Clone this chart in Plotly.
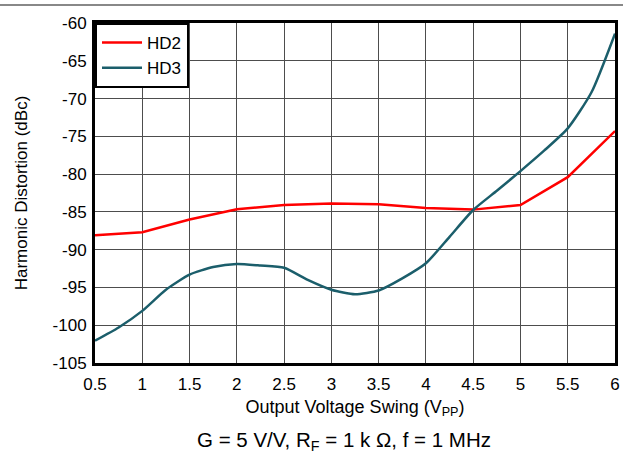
import plotly.graph_objects as go

# Data
hd2_x = [0.5, 1.0, 1.5, 2.0, 2.5, 3.0, 3.5, 4.0, 4.5, 5.0, 5.5, 6.0]
hd2_y = [-88.1, -87.7, -86.0, -84.65, -84.1, -83.9, -84.0, -84.5, -84.7, -84.1, -80.4, -74.3]

hd3_x = [0.5, 0.75, 1.0, 1.25, 1.5, 1.75, 2.0, 2.25, 2.5, 2.75, 3.0, 3.25,
         3.5, 3.75, 4.0, 4.25, 4.5, 4.75, 5.0, 5.25, 5.5, 5.75, 6.0]
hd3_y = [-102.05, -100.3, -98.1, -95.3, -93.3, -92.3, -91.9, -92.1, -92.4, -94.0, -95.3, -95.9,
         -95.4, -93.8, -91.8, -88.3, -84.75, -82.2, -79.6, -76.9, -73.95, -69.2, -61.4]

x_ticks = [0.5, 1, 1.5, 2, 2.5, 3, 3.5, 4, 4.5, 5, 5.5, 6]
x_ticktext = ["0.5", "1", "1.5", "2", "2.5", "3", "3.5", "4", "4.5", "5", "5.5", "6"]
y_ticks = [-105, -100, -95, -90, -85, -80, -75, -70, -65, -60]
y_ticktext = ["-105", "-100", "-95", "-90", "-85", "-80", "-75", "-70", "-65", "-60"]

FONT = "Liberation Sans, Arial, sans-serif"

fig = go.Figure()
fig.add_trace(go.Scatter(x=hd2_x, y=hd2_y, mode="lines", name="HD2",
                         line=dict(color="#ff0000", width=2.5)))
fig.add_trace(go.Scatter(x=hd3_x, y=hd3_y, mode="lines", name="HD3",
                         line=dict(color="#1b5e6b", width=2.5, shape="spline", smoothing=0.6)))

axis_common = dict(showline=True, linecolor="black", linewidth=3, mirror=True,
                   showgrid=True, gridcolor="#4d4d4d", gridwidth=1, zeroline=False,
                   automargin=False,
                   ticks="", tickfont=dict(family=FONT, size=17, color="black"))

fig.update_xaxes(range=[0.5, 6], tickvals=x_ticks, ticktext=x_ticktext,
                 ticklabelstandoff=4,
                 title=dict(text="Output Voltage Swing (V<sub>PP</sub>)",
                            font=dict(family=FONT, size=18, color="black"), standoff=7),
                 **axis_common)
fig.update_yaxes(range=[-105, -60], tickvals=y_ticks, ticktext=y_ticktext,
                 ticklabelstandoff=2,
                 title=dict(text="Harmonic Distortion (dBc)",
                            font=dict(family=FONT, size=17, color="black"), standoff=21),
                 **axis_common)

fig.add_annotation(text="G = 5 V/V, R<sub>F</sub> = 1 k Ω, f = 1 MHz",
                   xref="paper", yref="paper", x=0.479, y=-0.23,
                   xanchor="center", yanchor="middle", showarrow=False,
                   font=dict(family=FONT, size=20.5, color="black"))

fig.add_shape(type="line", xref="paper", yref="paper",
              x0=-0.19, x1=1.02, y0=1.053, y1=1.053,
              line=dict(color="#888888", width=2))

fig.update_layout(
    width=623, height=453,
    margin=dict(l=95, r=8, t=23, b=90),
    paper_bgcolor="white", plot_bgcolor="white",
    font=dict(family=FONT, size=17, color="black"),
    legend=dict(x=0, y=1, xanchor="left", yanchor="top",
                bgcolor="white", bordercolor="black", borderwidth=2,
                font=dict(family=FONT, size=17, color="black"),
                itemwidth=40, tracegroupgap=0),
    showlegend=True,
)

fig.write_html("out.html", config={"displayModeBar": False},
               post_script="document.body.style.margin='0';")
